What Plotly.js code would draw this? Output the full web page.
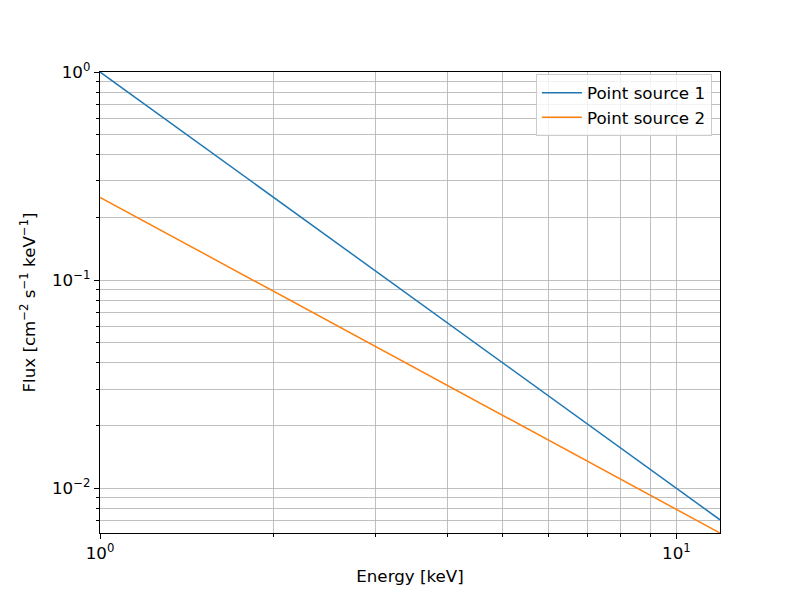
<!DOCTYPE html>
<html>
<head>
<meta charset="utf-8">
<script src="https://cdn.plot.ly/plotly-3.0.1.min.js"></script>
<style>html,body{margin:0;padding:0;background:#fff;}#chart{width:800px;height:600px;}</style>
</head>
<body>
<div id="chart"></div>
<script>
// Data
const energy = [1, 2, 3, 4, 5, 6, 8, 10, 11.9];
const flux1 = [1, 0.25, 0.111, 0.0625, 0.04, 0.0278, 0.0156, 0.01, 0.00706];
const flux2 = [0.25, 0.0884, 0.0481, 0.03125, 0.0224, 0.017, 0.011, 0.0079, 0.0061];
const seriesNames = ["Point source 1", "Point source 2"];
const xMajorVals = [1, 10];
const xMajorText = ["10<sup>0</sup>", "10<sup>1</sup>"];
const yMajorVals = [0.01, 0.1, 1];
const yMajorText = ["10<sup>−2</sup>", "10<sup>−1</sup>", "10<sup>0</sup>"];
const xMinorVals = [2, 3, 4, 5, 6, 7, 8, 9];
const yMinorVals = [0.007, 0.008, 0.009, 0.02, 0.03, 0.04, 0.05, 0.06, 0.07, 0.08, 0.09, 0.2, 0.3, 0.4, 0.5, 0.6, 0.7, 0.8, 0.9];

const font = {family: "DejaVu Sans, sans-serif", size: 16.7, color: "#000"};
const traces = [
  {x: energy, y: flux1, name: seriesNames[0], mode: "lines", line: {color: "#1f77b4", width: 1.5}},
  {x: energy, y: flux2, name: seriesNames[1], mode: "lines", line: {color: "#ff7f0e", width: 1.5}}
];
const axisCommon = {
  type: "log",
  showline: true, linecolor: "#000", linewidth: 1.3, mirror: true,
  ticks: "outside", ticklen: 5, tickwidth: 1, tickcolor: "#000",
  showgrid: true, gridcolor: "#b0b0b0", gridwidth: 0.8,
  zeroline: false, tickmode: "array", tickfont: font
};
const layout = {
  width: 800, height: 600,
  margin: {l: 100, r: 80, t: 72, b: 67},
  paper_bgcolor: "#fff", plot_bgcolor: "#fff",
  font: font,
  showlegend: true,
  legend: {x: 0.987, y: 0.995, xanchor: "right", yanchor: "top", bgcolor: "rgba(255,255,255,0.8)",
           bordercolor: "#cccccc", borderwidth: 1, font: font, tracegroupgap: 0, itemwidth: 40},
  xaxis: Object.assign({}, axisCommon, {
    range: [0, Math.log10(11.9)],
    tickvals: xMajorVals, ticktext: xMajorText,
    minor: {tickmode: "array", tickvals: xMinorVals, ticks: "outside", ticklen: 3, tickcolor: "#000", showgrid: true, gridcolor: "#b0b0b0", gridwidth: 0.8},
    title: {text: "Energy [keV]", font: font, standoff: 8}
  }),
  yaxis: Object.assign({}, axisCommon, {
    range: [Math.log10(0.0061), 0],
    tickvals: yMajorVals, ticktext: yMajorText,
    minor: {tickmode: "array", tickvals: yMinorVals, ticks: "outside", ticklen: 3, tickcolor: "#000", showgrid: true, gridcolor: "#b0b0b0", gridwidth: 0.8},
    title: {text: "Flux [cm<sup>−2</sup> s<sup>−1</sup> keV<sup>−1</sup>]", font: font, standoff: 12}
  })
};
Plotly.newPlot("chart", traces, layout, {displayModeBar: false, staticPlot: true});
</script>
</body>
</html>
